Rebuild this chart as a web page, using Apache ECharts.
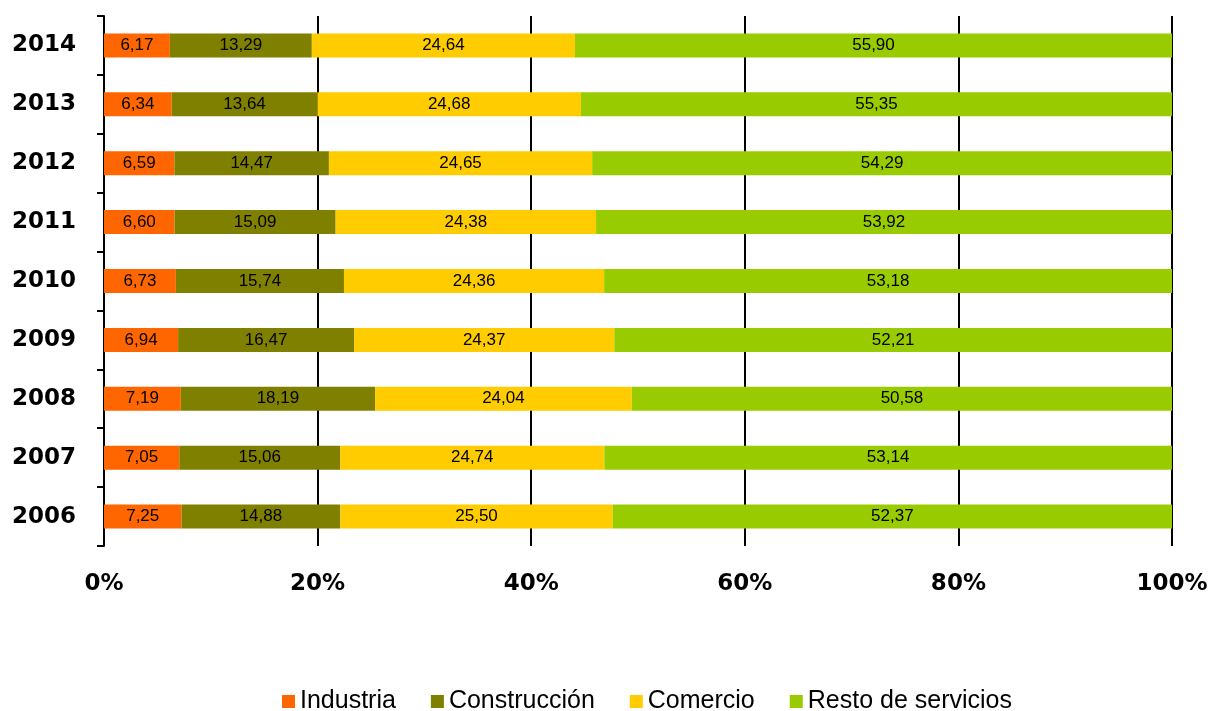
<!DOCTYPE html>
<html><head><meta charset="utf-8">
<script src="https://cdn.jsdelivr.net/npm/echarts@6/dist/echarts.min.js"></script>
<style>html,body{margin:0;padding:0;background:#fff}#c{width:1212px;height:711px}</style>
</head><body><div id="c"></div>
<script>
const years = ['2006','2007','2008','2009','2010','2011','2012','2013','2014'];
const industria = [7.25,7.05,7.19,6.94,6.73,6.60,6.59,6.34,6.17];
const construccion = [14.88,15.06,18.19,16.47,15.74,15.09,14.47,13.64,13.29];
const comercio = [25.50,24.74,24.04,24.37,24.36,24.38,24.65,24.68,24.64];
const resto = [52.37,53.14,50.58,52.21,53.18,53.92,54.29,55.35,55.90];
const seriesNames = ['Industria','Construcción','Comercio','Resto de servicios'];
const colors = ['#FF6600','#808000','#FFCC00','#99CC00'];

const chart = echarts.init(document.getElementById('c'));
const fmt = p => p.value.toFixed(2).replace('.', ',');
const mk = (name, data, i) => ({
  name, type:'bar', stack:'t', data, barWidth:24,
  itemStyle:{color:colors[i]},
  label:{show:true, position:'inside', formatter:fmt, color:'#000', fontSize:17, fontFamily:'Liberation Sans, Arial'}
});
chart.setOption({
  animation:false,
  grid:{left:104, right:40, top:16, bottom:165, containLabel:false},
  xAxis:{type:'value', min:0, max:100, interval:20,
    axisLine:{show:false}, axisTick:{show:false},
    splitLine:{show:true, lineStyle:{color:'#000', width:2}},
    axisLabel:{formatter:v=>v+'%', fontSize:23, fontWeight:'bold', color:'#000', fontFamily:'DejaVu Sans', margin:27}
  },
  yAxis:{type:'category', data:years,
    axisLine:{show:true, lineStyle:{color:'#000', width:2}},
    axisTick:{show:true, inside:false, length:7, lineStyle:{color:'#000', width:2}},
    axisLabel:{fontSize:23, fontWeight:'bold', color:'#000', fontFamily:'DejaVu Sans', margin:28}
  },
  legend:{top:684, left:277, itemWidth:13, itemHeight:13, itemGap:35, icon:'rect',
    textStyle:{fontSize:25, color:'#000', fontFamily:'Liberation Sans, Arial'},
    data:seriesNames},
  series:[mk(seriesNames[0],industria,0),mk(seriesNames[1],construccion,1),mk(seriesNames[2],comercio,2),mk(seriesNames[3],resto,3)]
});
</script></body></html>
